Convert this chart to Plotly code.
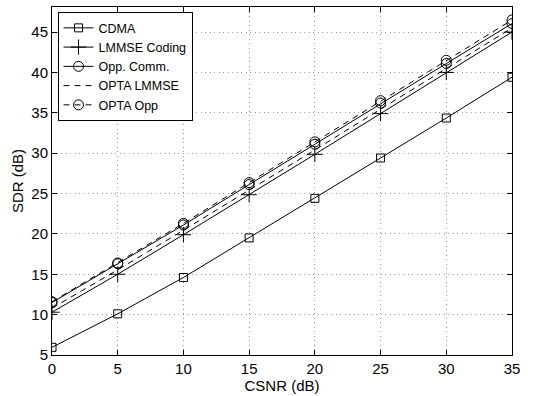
import plotly.graph_objects as go

csnr = [0, 5, 10, 15, 20, 25, 30, 35]
cdma = [5.95, 10.1, 14.6, 19.5, 24.4, 29.4, 34.35, 39.4]
lmmse_coding = [10.3, 15.0, 19.9, 24.85, 29.85, 34.9, 40.0, 45.0]
opp_comm = [11.5, 16.3, 21.1, 26.1, 31.1, 36.2, 41.1, 46.05]
opta_lmmse = [10.8, 15.55, 20.45, 25.4, 30.4, 35.45, 40.5, 45.5]
opta_opp = [11.6, 16.4, 21.3, 26.35, 31.4, 36.5, 41.5, 46.5]

xticks = [0, 5, 10, 15, 20, 25, 30, 35]
yticks = [5, 10, 15, 20, 25, 30, 35, 40, 45]

fig = go.Figure()
blk = "black"
fig.add_trace(go.Scatter(x=csnr, y=cdma, name="CDMA", mode="lines+markers",
                         line=dict(color=blk, width=1),
                         marker=dict(symbol="square-open", size=8, color=blk, line=dict(width=1))))
fig.add_trace(go.Scatter(x=csnr, y=lmmse_coding, name="LMMSE Coding", mode="lines+markers",
                         line=dict(color=blk, width=1),
                         marker=dict(symbol="cross-thin", size=11, color=blk, line=dict(width=1, color=blk))))
fig.add_trace(go.Scatter(x=csnr, y=opp_comm, name="Opp. Comm.", mode="lines+markers",
                         line=dict(color=blk, width=1),
                         marker=dict(symbol="circle-open", size=10, color=blk, line=dict(width=1))))
fig.add_trace(go.Scatter(x=csnr, y=opta_lmmse, name="OPTA LMMSE", mode="lines",
                         line=dict(color=blk, width=1, dash="6px,5px")))
fig.add_trace(go.Scatter(x=csnr, y=opta_opp, name="OPTA Opp", mode="lines+markers",
                         line=dict(color=blk, width=1, dash="6px,5px"),
                         marker=dict(symbol="circle-open", size=10, color=blk, line=dict(width=1))))

axis_common = dict(
    showline=True, linecolor=blk, linewidth=1, mirror="ticks",
    ticks="inside", ticklen=5, tickcolor=blk,
    showgrid=True, gridcolor="#999999", griddash="1px,3.5px", gridwidth=1,
    zeroline=False, tickfont=dict(size=15, color=blk),
)
fig.update_xaxes(range=[0, 35], tickvals=xticks, title=dict(text="CSNR (dB)", font=dict(size=15, color=blk), standoff=2),
                 **axis_common)
fig.update_yaxes(range=[5, 48.1], tickvals=yticks, title=dict(text="SDR (dB)", font=dict(size=15, color=blk), standoff=4),
                 **axis_common)

fig.update_layout(
    width=538, height=396,
    margin=dict(l=52, r=26, t=6, b=40),
    paper_bgcolor="white", plot_bgcolor="white",
    font=dict(family="Liberation Sans, Arial, sans-serif", color=blk),
    legend=dict(x=0.012, y=0.985, xanchor="left", yanchor="top",
                bordercolor=blk, borderwidth=1, bgcolor="white",
                font=dict(size=12.5, color=blk), tracegroupgap=0,
                itemwidth=30),
    showlegend=True,
)

fig.write_html("out.html")
